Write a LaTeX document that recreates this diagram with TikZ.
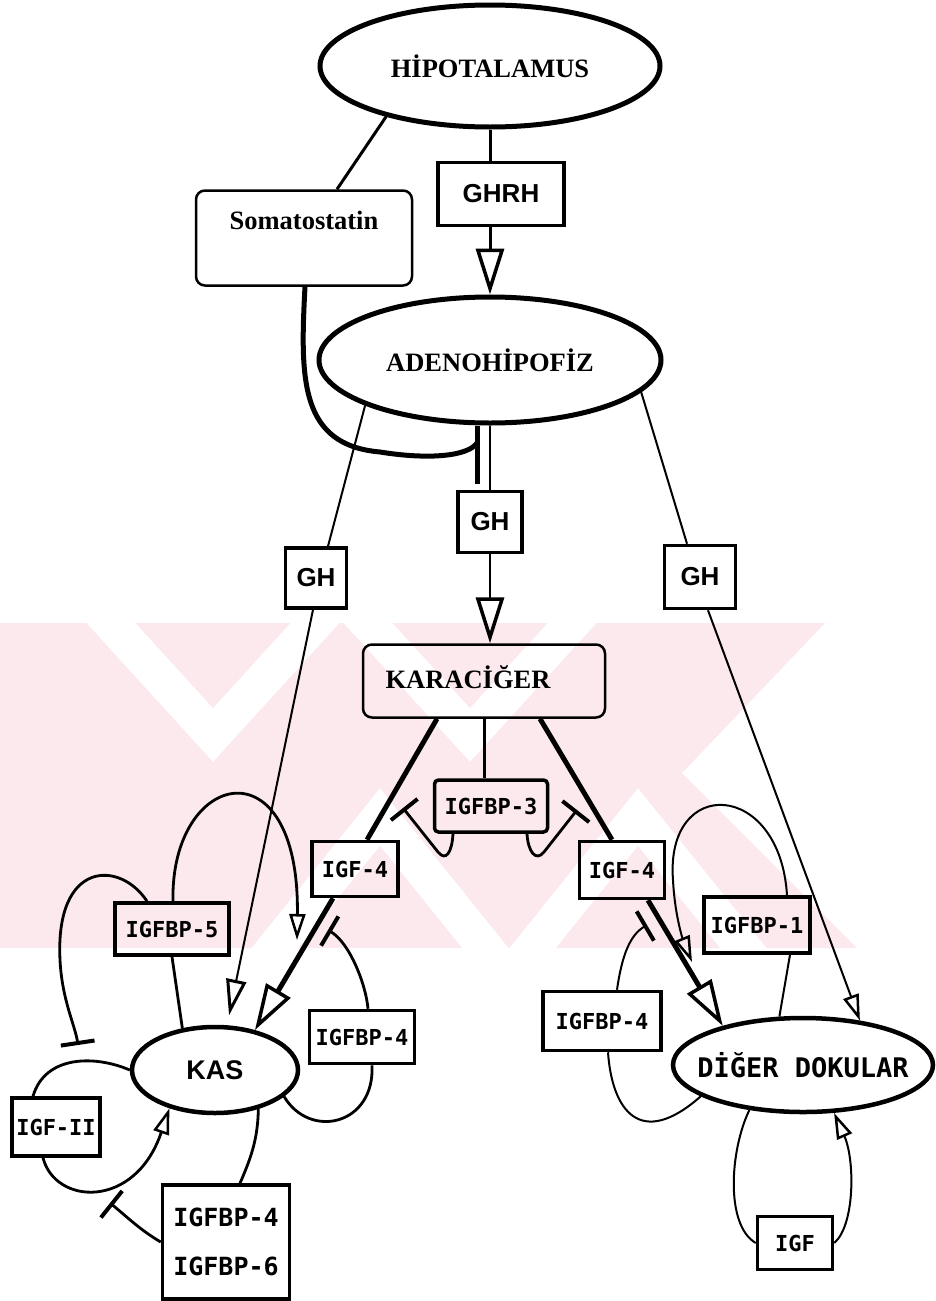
\documentclass[tikz,border=0pt]{standalone}
\usepackage{fontspec}
\setmainfont{Liberation Serif}
\newfontfamily\labelsans{Liberation Sans}
\newfontfamily\labelmono{DejaVu Sans Mono}
\usetikzlibrary{shapes.geometric,arrows.meta,calc}
\definecolor{markpink}{RGB}{252,233,237}
\newcommand{\organfont}{\fontsize{26.5}{30}\selectfont\bfseries}

\begin{document}
\begin{tikzpicture}[x=1pt, y=-1pt,
    organ/.style={ellipse, draw, line width=5pt, inner sep=0pt, font=\organfont},
    tissue/.style={ellipse, draw, line width=4.5pt, inner xsep=-30pt, inner ysep=0pt, font=\labelmono\bfseries\fontsize{27}{30}\selectfont},
    roundbox/.style={rectangle, rounded corners=9pt, draw, line width=2.5pt, inner sep=0pt},
    hormone/.style={rectangle, draw, line width=3.5pt, inner sep=0pt, font=\labelsans\bfseries\fontsize{26}{30}\selectfont},
    factor/.style={rectangle, draw, line width=3.5pt, inner sep=0pt, font=\labelmono\bfseries\fontsize{22}{26}\selectfont},
    conn/.style={line width=2pt},
    feedback/.style={line width=2.8pt},
    heavy/.style={line width=5pt},
    stripe/.style={white, line width=36pt, line join=miter},
    bighead/.style={-{Triangle[open, length=46pt, width=28pt, line width=3.5pt]}},
    midhead/.style={-{Triangle[open, length=36pt, width=20pt, line width=3pt]}},
    smallhead/.style={-{Triangle[open, length=26pt, width=16pt, line width=2.5pt]}},
    blocker/.style={-{Bar[width=34pt, line width=4pt]}}
]

% Page
\fill[white] (0,0) rectangle (935,1301);
\useasboundingbox (0,0) rectangle (935,1301);

% Watermark band
\begin{scope}
\clip (0,623) rectangle (935,948);
\fill[markpink] (0,623) -- (825,623) -- (682,773) -- (857,948) -- (0,948) -- cycle;
\draw[stripe] (90,600) -- (213,735) -- (336,600);
\draw[stripe] (347,600) -- (470,735) -- (593,600);
\draw[stripe] (257,970) -- (380,817) -- (503,970);
\draw[stripe] (515,970) -- (638,817) -- (761,970);
\end{scope}

% Hipotalamus and Adenohipofiz
\node[organ, minimum width=340pt, minimum height=122pt] (hypo) at (490,66) {HİPOTALAMUS};
\node[hormone, minimum width=126pt, minimum height=63pt] (ghrh) at (501,194) {GHRH};
\node[roundbox, minimum width=216pt, minimum height=95pt,
      label={[yshift=18pt, font=\organfont]center:Somatostatin}] (soma) at (304,238) {};
\node[organ, minimum width=342pt, minimum height=126pt] (adeno) at (490,360) {ADENOHİPOFİZ};

% GH boxes
\node[hormone, minimum width=64pt, minimum height=61pt] (ghc) at (490,522) {GH};
\node[hormone, minimum width=61pt, minimum height=60pt] (ghl) at (316,578) {GH};
\node[hormone, minimum width=71pt, minimum height=63pt] (ghr) at (700,577) {GH};

% Karaciger
\node[roundbox, minimum width=242pt, minimum height=73pt,
      label={[xshift=-16pt, yshift=4pt, font=\organfont]center:KARACİĞER}] (liver) at (484,681) {};
\node[factor, rounded corners=4pt, minimum width=113pt, minimum height=52pt] (bp3) at (491,806) {IGFBP-3};
\node[factor, minimum width=86pt, minimum height=55pt] (igfl) at (355,869) {IGF-4};
\node[factor, minimum width=85pt, minimum height=57pt] (igfr) at (622,870) {IGF-4};

% Kas
\node[tissue, minimum width=166pt, minimum height=86pt, inner xsep=0pt, font=\labelsans\bfseries\fontsize{27}{30}\selectfont] (kas) at (215,1070) {KAS};
\node[factor, minimum width=114pt, minimum height=52pt] (bp5) at (172,929) {IGFBP-5};
\node[factor, minimum width=105pt, minimum height=53pt] (bp4l) at (362,1037) {IGFBP-4};
\node[factor, minimum width=88pt, minimum height=58pt] (igf2) at (56,1127) {IGF-II};
\node[factor, minimum width=127pt, minimum height=114pt, align=left,
      font=\labelmono\bfseries\fontsize{25}{49}\selectfont] (bp46) at (226,1242) {IGFBP-4\\IGFBP-6};

% Diger dokular
\node[tissue, minimum width=260pt, minimum height=94pt] (dig) at (803,1065) {DİĞER DOKULAR};
\node[factor, minimum width=106pt, minimum height=56pt] (bp1) at (757,925) {IGFBP-1};
\node[factor, minimum width=118pt, minimum height=59pt] (bp4r) at (602,1021) {IGFBP-4};
\node[factor, minimum width=75pt, minimum height=53pt] (igf) at (795,1243) {IGF};

% Free ends
\coordinate (somaend) at (477,484);
\coordinate (bp3left) at (403,808);
\coordinate (bp3right) at (577,810);
\coordinate (bp5tip) at (297,940);
\coordinate (bp5bar) at (78,1045);
\coordinate (bp46bar) at (110,1203);
\coordinate (bp4lbar) at (328,930);
\coordinate (bp1tip) at (692,962);
\coordinate (bp4rbar) at (647,925);

% Hipotalamus -> GHRH -> Adenohipofiz
\draw[conn, line width=3pt] (hypo.south) -- (hypo.south |- ghrh.north);
\draw[conn, line width=3pt, bighead] (hypo.south |- ghrh.south) -- (hypo.south |- adeno.north);

% Somatostatin
\draw[conn, line width=3pt] (hypo.206) -- ([xshift=33pt]soma.north);
\draw[heavy] ([xshift=1pt]soma.south) .. controls (300,380) and (300,445) .. (380,452)
    .. controls (430,460) and (468,456) .. (somaend |- 0,443);
\draw[heavy] (adeno.south -| somaend) -- (somaend);

% GH
\draw[conn] (adeno.south) -- (ghc.north);
\draw[conn, bighead] (ghc.south) -- (ghc.south |- liver.north);
\draw[conn] (adeno.200) -- ([xshift=12pt]ghl.north);
\draw[conn, midhead, shorten >=10pt] ([xshift=-3pt]ghl.south) -- (kas.75);
\draw[conn] (adeno.-12) -- ([xshift=-13pt]ghr.north);
\draw[conn, smallhead] ([xshift=8pt]ghr.south) -- (dig.38);

% Karaciger -> IGF-4
\draw[heavy] ([xshift=-47pt]liver.south) -- ([xshift=12pt]igfl.north);
\draw[heavy] ([xshift=56pt]liver.south) -- ([xshift=-10pt]igfr.north);
\draw[conn, line width=3pt] (liver.south) -- (liver.south |- bp3.north);
\draw[heavy, bighead] ([xshift=-22pt]igfl.south) -- (kas.45);
\draw[heavy, bighead] ([xshift=26pt]igfr.south) -- (dig.154);

% IGFBP-3
\draw[feedback, blocker] ([xshift=-38pt]bp3.south) .. controls (452,852) and (446,862) .. (438,852) -- (bp3left);
\draw[feedback, blocker] ([xshift=36pt]bp3.south) .. controls (528,852) and (536,862) .. (544,852) -- (bp3right);

% Kas loops
\draw[feedback, smallhead] ([xshift=1pt]bp5.north) .. controls (170,770) and (300,740) .. (bp5tip);
\draw[feedback, blocker] ([xshift=-25pt]bp5.north) .. controls (120,860) and (55,860) .. (60,960)
    .. controls (62,1000) and (75,1025) .. (bp5bar);
\draw[feedback] (bp5.south) -- (kas.128);
\draw[feedback] (kas.west) .. controls (95,1055) and (45,1055) .. ([xshift=-23pt]igf2.north);
\draw[feedback, smallhead] ([xshift=-13pt]igf2.south) .. controls (55,1205) and (135,1210) .. (kas.220);
\draw[feedback] ([xshift=14pt]bp46.north) .. controls (250,1160) and (258,1140) .. (kas.-42);
\draw[feedback, blocker] (bp46.west) .. controls (140,1230) and (125,1215) .. (bp46bar);
\draw[feedback, blocker] ([xshift=6pt]bp4l.north) .. controls (366,985) and (350,943) .. (bp4lbar);
\draw[feedback] ([xshift=10pt]bp4l.south) .. controls (375,1125) and (310,1140) .. (kas.-21);

% Diger dokular loops
\draw[conn, smallhead] ([xshift=30pt]bp1.north) .. controls (780,780) and (665,775) .. (673,880)
    .. controls (675,920) and (685,945) .. (bp1tip);
\draw[conn] ([xshift=33pt]bp1.south) -- (dig.116);
\draw[conn, blocker] ([xshift=15pt]bp4r.north) .. controls (622,955) and (630,935) .. (bp4rbar);
\draw[conn] ([xshift=6pt]bp4r.south) .. controls (612,1110) and (640,1150) .. (dig.197);
\draw[conn] (dig.220) .. controls (730,1150) and (725,1225) .. (igf.west);
\draw[conn, smallhead] (igf.east) .. controls (855,1225) and (855,1160) .. (dig.-57);

\end{tikzpicture}
\end{document}
